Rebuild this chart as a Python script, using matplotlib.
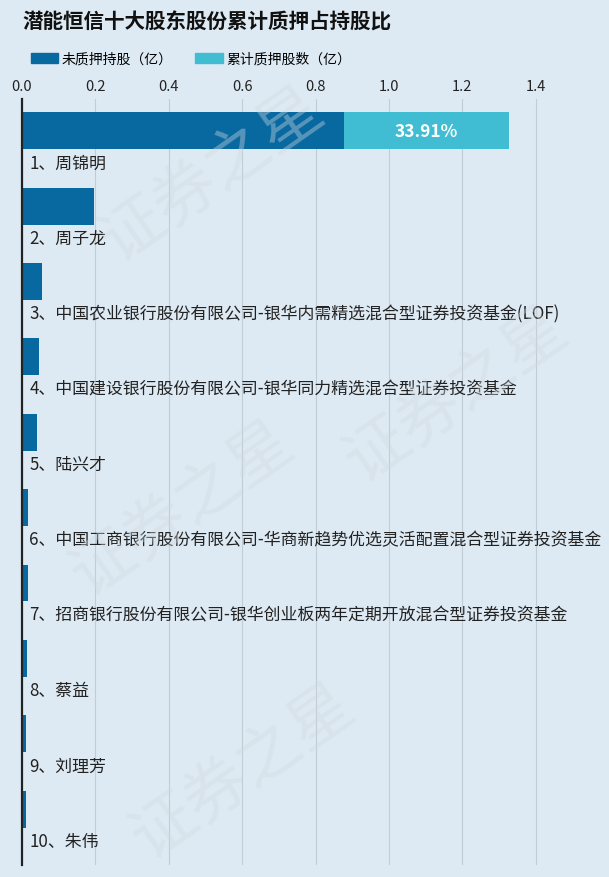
import matplotlib.pyplot as plt
from matplotlib.patches import Patch

plt.rcParams['font.family'] = ['Noto Sans CJK SC', 'DejaVu Sans']

names = ["1、周锦明", "2、周子龙",
         "3、中国农业银行股份有限公司-银华内需精选混合型证券投资基金(LOF)",
         "4、中国建设银行股份有限公司-银华同力精选混合型证券投资基金",
         "5、陆兴才",
         "6、中国工商银行股份有限公司-华商新趋势优选灵活配置混合型证券投资基金",
         "7、招商银行股份有限公司-银华创业板两年定期开放混合型证券投资基金",
         "8、蔡益", "9、刘理芳", "10、朱伟"]
unpledged = [0.8773, 0.196, 0.054, 0.046, 0.040, 0.017, 0.015, 0.013, 0.012, 0.011]
pledged = [0.4502, 0, 0, 0, 0, 0, 0, 0, 0, 0]
pct_labels = ["33.91%", "", "", "", "", "", "", "", "", ""]
xticks = [0.0, 0.2, 0.4, 0.6, 0.8, 1.0, 1.2, 1.4]

bg = "#deeaf3"
dark = "#0868a0"
light = "#40bdd3"

fig = plt.figure(figsize=(6.09, 8.78), dpi=100, facecolor=bg)
ax = fig.add_axes([22 / 609, 12 / 878, 1 - 22 / 609, (866 - 100) / 878])
ax.set_facecolor(bg)

# faint watermark
for (x, y) in [(0.35, 0.8), (0.3, 0.42), (0.75, 0.55), (0.4, 0.12)]:
    fig.text(x, y, "证券之星", fontsize=46, color="#cfd9e0", alpha=0.4, rotation=35,
             ha="center", va="center", zorder=0)

ys = list(range(len(names)))
ax.barh(ys, unpledged, height=0.49, color=dark, zorder=3)
ax.barh(ys, pledged, left=unpledged, height=0.49, color=light, zorder=3)

for i, name in enumerate(names):
    ax.text(0.02, i + 0.42, name, fontsize=12.2, color="#222222", va="center", ha="left", zorder=4)
    if pct_labels[i]:
        ax.text(unpledged[i] + pledged[i] / 2, i, pct_labels[i], fontsize=12.5, fontweight="bold",
                color="white", ha="center", va="center", zorder=4)

ax.set_xlim(0, 1.6)
ax.set_ylim(len(names) - 1 + 0.74, -0.42)
ax.set_xticks(xticks)
ax.set_xticklabels([f"{v:.1f}" for v in xticks])
ax.xaxis.tick_top()
ax.tick_params(axis="x", length=0, labelsize=10.5, pad=4, colors="#222222")
ax.set_yticks([])
ax.grid(axis="x", color="#c2ccd4", linewidth=0.8, zorder=1)
for s in ["top", "right", "bottom"]:
    ax.spines[s].set_visible(False)
ax.spines["left"].set_color("#222222")
ax.spines["left"].set_linewidth(1.6)
ax.spines["left"].set_zorder(5)

fig.text(22 / 609, 1 - 22 / 878, "潜能恒信十大股东股份累计质押占持股比", fontsize=14.8,
         fontweight="bold", color="#111111", ha="left", va="center")

handles = [Patch(color=dark, label="未质押持股（亿）"), Patch(color=light, label="累计质押股数（亿）")]
fig.legend(handles=handles, loc="center left", bbox_to_anchor=(18 / 609, 1 - 60 / 878), ncol=2,
           frameon=False, fontsize=10, handlelength=2.0, handleheight=0.8, handletextpad=0.25,
           columnspacing=1.6)

fig.savefig("out.png", dpi=100, facecolor=bg)
